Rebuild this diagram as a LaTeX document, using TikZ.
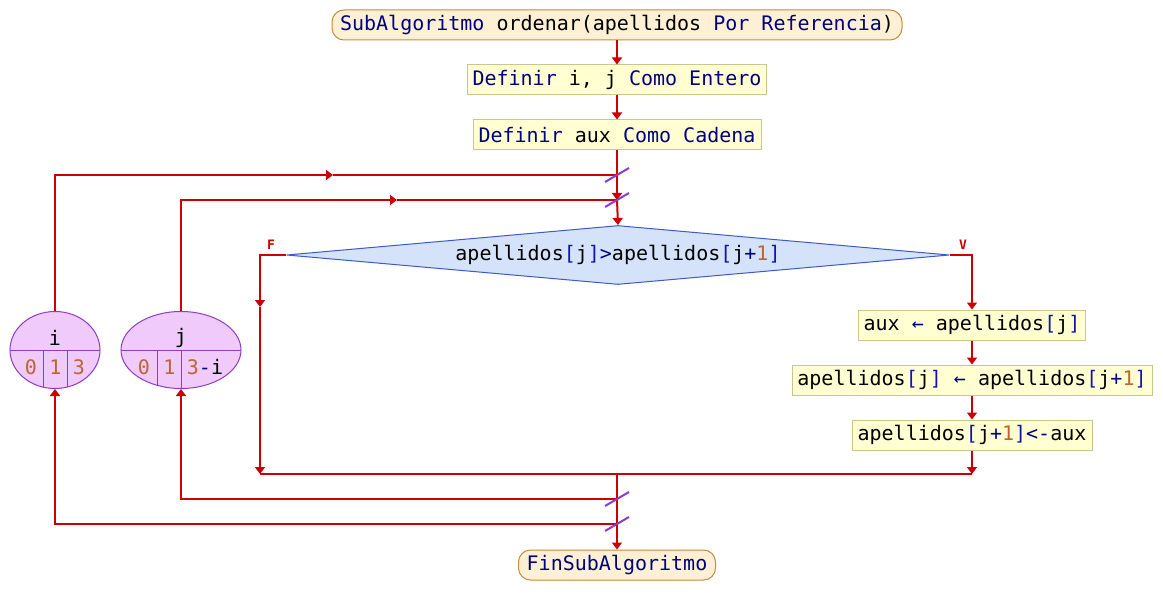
\documentclass[tikz,border=0pt]{standalone}
\usepackage{fontspec}
\setmainfont{DejaVu Sans Mono}
\usetikzlibrary{shapes.geometric,arrows.meta}
\definecolor{flow}{RGB}{204,0,0}
\definecolor{slashc}{RGB}{140,60,210}
\definecolor{termfill}{RGB}{253,240,212}
\definecolor{termborder}{RGB}{200,140,60}
\definecolor{procfill}{RGB}{255,255,210}
\definecolor{procborder}{RGB}{200,200,140}
\definecolor{condfill}{RGB}{213,227,250}
\definecolor{condborder}{RGB}{60,90,200}
\definecolor{loopfill}{RGB}{240,202,250}
\definecolor{loopborder}{RGB}{140,60,200}
\definecolor{kwc}{RGB}{0,0,128}
\definecolor{numc}{RGB}{190,100,50}
\definecolor{opc}{RGB}{20,20,170}
\newcommand{\KW}[1]{\textcolor{kwc}{#1}}
\newcommand{\NUM}[1]{\textcolor{numc}{#1}}
\newcommand{\OPC}[1]{\textcolor{opc}{#1}}
\begin{document}
\begin{tikzpicture}[x=1pt,y=-1pt,
  font=\fontsize{20}{24}\selectfont,
  term/.style={draw=termborder, fill=termfill, rounded corners=12pt, minimum height=30pt, inner sep=0pt, line width=1pt},
  proc/.style={draw=procborder, fill=procfill, minimum height=30pt, inner sep=0pt, line width=1pt},
  cond/.style={diamond, draw=condborder, fill=condfill, aspect=11.2, minimum width=663pt, minimum height=59pt, inner sep=0pt, line width=1pt},
  loopvar/.style={ellipse, draw=loopborder, fill=loopfill, minimum height=77pt, inner sep=0pt, line width=1pt},
  flowline/.style={draw=flow, line width=2pt},
  arr/.style={flowline, -{Triangle[width=10pt,length=7pt]}},
  slashmark/.style={draw=slashc, line width=2pt},
  divider/.style={draw=loopborder, line width=1pt},
  tag/.style={text=flow, font=\fontsize{13}{15}\selectfont\bfseries}
]
\useasboundingbox[fill=white] (0,0) rectangle (1163,615);

% nodes
\node[term, minimum width=570pt] (start) at (617,25) {\KW{SubAlgoritmo} ordenar(apellidos \KW{Por Referencia})};
\node[proc, minimum width=299pt] (def1) at (617,80) {\KW{Definir} i, j \KW{Como Entero}};
\node[proc, minimum width=288pt] (def2) at (617,135) {\KW{Definir} aux \KW{Como Cadena}};
\node[cond] (dec) at (618,255) {apellidos\OPC{[}j\OPC{]}\KW{>}apellidos\OPC{[}j\KW{+}\NUM{1}\OPC{]}};
\node[tag] (flbl) at (271,245) {F};
\node[tag] (vlbl) at (963,245) {V};
\node[proc, minimum width=227pt] (b1) at (972,325) {aux \KW{←} apellidos\OPC{[}j\OPC{]}};
\node[proc, minimum width=360pt] (b2) at (972,380) {apellidos\OPC{[}j\OPC{]} \KW{←} apellidos\OPC{[}j\KW{+}\NUM{1}\OPC{]}};
\node[proc, minimum width=240pt] (b3) at (972,435) {apellidos\OPC{[}j\KW{+}\NUM{1}\OPC{]}\KW{<-}aux};
\node[term, minimum width=197pt] (fin) at (617,565) {\KW{FinSubAlgoritmo}};

% loop variables
\node[loopvar, minimum width=90pt] (li) at (55,350) {};
\begin{scope}
  \clip (55,350) ellipse [x radius=45pt, y radius=38.5pt];
  \draw[divider] (5,350) -- (105,350);
  \draw[divider] (43.5,350) -- (43.5,400);
  \draw[divider] (67.5,350) -- (67.5,400);
\end{scope}
\node (lit) at (55,338) {i};
\node[text=numc] (li0) at (31,367) {0};
\node[text=numc] (li1) at (55.5,367) {1};
\node[text=numc] (li3) at (79,367) {3};

\node[loopvar, minimum width=120pt] (lj) at (181,350) {};
\begin{scope}
  \clip (181,350) ellipse [x radius=60pt, y radius=38.5pt];
  \draw[divider] (115,350) -- (245,350);
  \draw[divider] (157.5,350) -- (157.5,400);
  \draw[divider] (181.5,350) -- (181.5,400);
\end{scope}
\node (ljt) at (181,338) {j};
\node[text=numc] (lj0) at (144,367) {0};
\node[text=numc] (lj1) at (169.5,367) {1};
\node (lj3) at (205,367) {\NUM{3}\KW{-}i};

% junction coordinates
\coordinate (ji) at (617,175);
\coordinate (jj) at (617,200);
\coordinate (iarr) at (333,175);
\coordinate (jarr) at (397,200);
\coordinate (fl) at (260,255);
\coordinate (flarr) at (260,307);
\coordinate (vr) at (972,255);
\coordinate (bl) at (260,474);
\coordinate (br) at (972,474);
\coordinate (bm) at (617,474);
\coordinate (rj) at (617,499);
\coordinate (ri) at (617,524);

% main flow
\draw[arr] (start.south) -- (def1.north);
\draw[arr] (def1.south) -- (def2.north);
\draw[flowline] (def2.south) -- (ji);
\draw[arr] (ji) -- (jj);
\draw[arr] (jj) -- (dec.north);

% loop returns (top)
\draw[arr] (li.north) |- (iarr);
\draw[flowline] (iarr) -- (ji);
\draw[arr] (lj.north) |- (jarr);
\draw[flowline] (jarr) -- (jj);

% decision branches
\draw[arr] (dec.west) -- (fl) -- (flarr);
\draw[arr] (flarr) -- (bl);
\draw[arr] (dec.east) -- (vr) -- (b1.north);
\draw[arr] (b1.south) -- (b2.north);
\draw[arr] (b2.south) -- (b3.north);
\draw[arr] (b3.south) -- (br);
\draw[flowline] (bl) -- (br);

% bottom
\draw[flowline] (bm) -- (rj) -- (ri);
\draw[arr] (ri) -- (fin.north);
\draw[arr] (rj) -| (lj.south);
\draw[arr] (ri) -| (li.south);

% slash marks
\draw[slashmark] ([shift={(-12,7)}]ji) -- ([shift={(12,-7)}]ji);
\draw[slashmark] ([shift={(-12,7)}]jj) -- ([shift={(12,-7)}]jj);
\draw[slashmark] ([shift={(-12,7)}]rj) -- ([shift={(12,-7)}]rj);
\draw[slashmark] ([shift={(-12,7)}]ri) -- ([shift={(12,-7)}]ri);
\end{tikzpicture}
\end{document}
